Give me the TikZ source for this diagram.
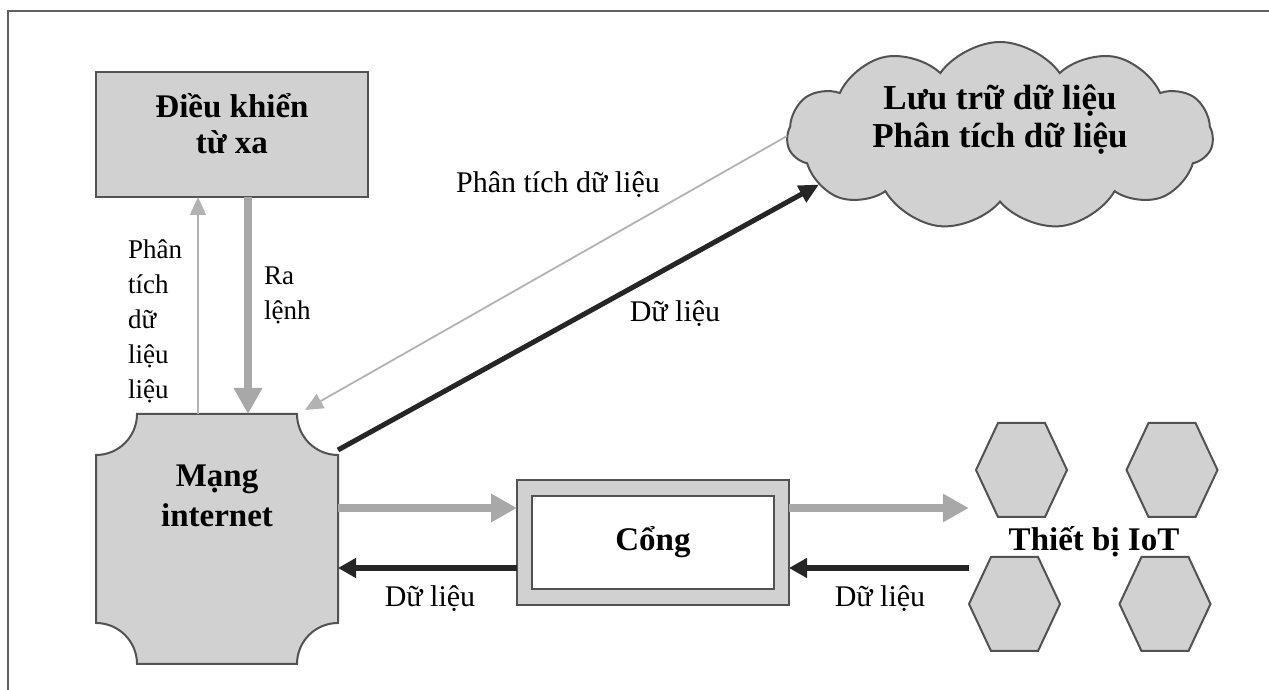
\documentclass[tikz,border=0pt]{standalone}
\usepackage{fontspec}
\setmainfont{Liberation Serif}
\usetikzlibrary{shapes,arrows.meta,positioning,calc}
\definecolor{cajagris}{gray}{0.82}
\definecolor{bordegris}{gray}{0.32}
\definecolor{flechagris}{gray}{0.66}
\definecolor{lineagris}{gray}{0.70}
\definecolor{grisoscuro}{gray}{0.15}
\definecolor{marcogris}{gray}{0.38}
\newcommand{\fuentetitulo}{\bfseries\fontsize{33}{36}\selectfont}
\newcommand{\fuentenube}{\bfseries\fontsize{35}{38}\selectfont}
\newcommand{\fuenteetiqueta}{\fontsize{30}{36}\selectfont}
\newcommand{\fuentevertical}{\fontsize{27}{34.8}\selectfont}
\tikzset{
    bloque/.style={
        rectangle,                % caja rectangular simple
        draw=bordegris,           % borde gris oscuro
        fill=cajagris,            % relleno gris claro
        line width=2pt,           % borde algo grueso
        inner sep=0pt,
        outer sep=0pt             % las flechas tocan el borde
    },
    nube/.style={
        cloud,                    % forma de nube (shapes.symbols)
        cloud puffs=11,
        cloud puff arc=110,
        aspect=2.27,
        draw=bordegris,
        fill=cajagris,
        line width=2pt,
        minimum width=426pt,
        minimum height=188pt,
        inner sep=0pt,
        outer sep=0pt
    },
    hexagono/.style={
        draw=bordegris,
        fill=cajagris,
        line width=2pt,
        line join=miter
    },
    titulo/.style={
        font=\fuentetitulo,       % negrita grande
        align=center,
        inner sep=0pt
    },
    etiqueta/.style={
        font=\fuenteetiqueta,     % texto normal de las flechas
        align=center,
        inner sep=0pt
    },
    vertical/.style={
        font=\fuentevertical,     % etiquetas apiladas junto a las flechas verticales
        align=left,
        inner sep=0pt,
        anchor=north west
    },
    marco/.style={
        draw=marcogris,
        line width=1.5pt
    },
    flechaancha/.style={
        draw=flechagris,          % flecha gruesa gris
        line width=8pt,
        -{Triangle[length=26pt,width=27pt]}
    },
    flechaoscura/.style={
        draw=grisoscuro,          % flecha oscura de datos
        line width=6.5pt,
        -{Triangle[length=18pt,width=19pt]}
    },
    flechadiag/.style={
        draw=grisoscuro,
        line width=5pt,
        -{Triangle[length=20pt,width=18pt]}
    },
    flechafina/.style={
        draw=lineagris,           % flecha fina gris claro
        line width=1.8pt,
        -{Triangle[length=18pt,width=16pt]}
    }
}
\begin{document}
\begin{tikzpicture}[x=1pt,y=1pt]
	\useasboundingbox (0,0) rectangle (1269,690);
	\draw[marco] (8,0) -- (8,679) -- (1269,679);

	\node[bloque, minimum width=272pt, minimum height=125pt] (control) at (232,555.5) {};
	\node[titulo] (controltxt) at ([yshift=11]control.center) {Điều khiển\\từ xa};

	\node[nube] (nube) at (1000,554) {};
	\node[titulo, font=\fuentenube] (nubetxt) at ([yshift=16]nube.center) {Lưu trữ dữ liệu\\Phân tích dữ liệu};

	\node[minimum width=242pt, minimum height=250pt, inner sep=0pt, outer sep=0pt] (red) at (217,151) {};
	\draw[bloque] ($(red.north west)+(41,0)$) -- ($(red.north east)+(-41,0)$)
		arc[start angle=180, end angle=270, radius=41] -- ($(red.south east)+(0,41)$)
		arc[start angle=90, end angle=180, radius=41] -- ($(red.south west)+(41,0)$)
		arc[start angle=0, end angle=90, radius=41] -- ($(red.north west)+(0,-41)$)
		arc[start angle=270, end angle=360, radius=41] -- cycle;
	\node[titulo] (redtxt) at ([yshift=43]red.center) {Mạng\\[4pt]internet};

	\node[bloque, minimum width=272pt, minimum height=125pt] (puerta) at (653,147.5) {};
	\node[bloque, titulo, fill=white, minimum width=242pt, minimum height=93pt] (puertatxt) at (puerta.center) {Cổng};

	\foreach \hx/\hy in {1021.5/220, 1172/220, 1014.5/86, 1165/86}
		\draw[hexagono] (\hx,\hy) +(-45.5,0) -- +(-23.5,47) -- +(23.5,47) -- +(45.5,0) -- +(23.5,-47) -- +(-23.5,-47) -- cycle;
	\node[titulo, minimum width=250pt] (iot) at (1094,148) {Thiết bị IoT};

	\draw[flechafina] ([xshift=-19]red.north) -- ([xshift=-34]control.south);
	\draw[flechaancha] ([xshift=16]control.south) -- ([xshift=31]red.north);
	\node[vertical] (analisisv) at (128,450) {Phân\\tích\\dữ\\liệu\\liệu};
	\node[vertical] (orden) at (264,423) {Ra\\lệnh};

	\draw[flechafina] (nube.west) -- ([xshift=-33,yshift=4]red.north east);
	\draw[flechadiag] ([yshift=89]red.east) -- (nube.195);
	\node[etiqueta] (analisisd) at (558,505) {Phân tích dữ liệu};
	\node[etiqueta] (datosd) at (675,376) {Dữ liệu};

	\draw[flechaancha] (red.east |- 0,182) -- (puerta.west |- 0,182);
	\draw[flechaoscura] (puerta.west |- 0,122) -- (red.east |- 0,122);
	\draw[flechaancha] (puerta.east |- 0,182) -- (iot.west |- 0,182);
	\draw[flechaoscura] (iot.west |- 0,122) -- (puerta.east |- 0,122);
	\node[etiqueta] (datosizq) at (430,91) {Dữ liệu};
	\node[etiqueta] (datosder) at (880,91) {Dữ liệu};
\end{tikzpicture}
\end{document}
